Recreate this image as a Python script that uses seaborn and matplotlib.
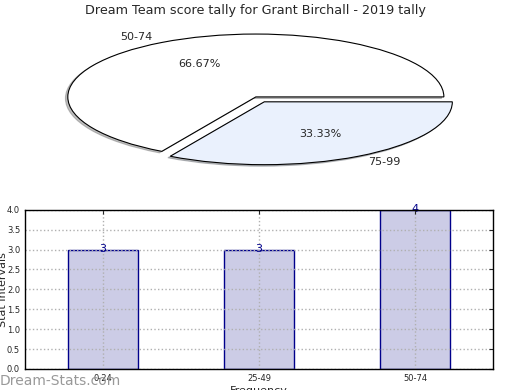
import numpy as np
import pandas as pd
import matplotlib
matplotlib.use('Agg')
import matplotlib.pyplot as plt
import seaborn as sns

# pie data
pie_labels = ['50-74', '75-99']
pie_values = [2, 1]

# bar data
bar_labels = ['0-24', '25-49', '50-74']
bar_values = [3, 3, 4]

sns.set_style('white')
plt.rcParams['font.family'] = ['DejaVu Sans']

fig = plt.figure(figsize=(5.2, 3.9), dpi=100)

# top: squashed pie
ax1 = fig.add_axes([0.040, 0.55, 0.904, 0.403])
ax1.pie(pie_values, labels=pie_labels, colors=['white', '#eaf1fd'],
        explode=[0, 0.09], autopct='%.2f%%',
        shadow={'ox': -0.009, 'oy': -0.017, 'shade': 0.5}, startangle=0,
        wedgeprops={'edgecolor': 'black', 'linewidth': 0.8},
        textprops={'fontsize': 8})
ax1.set_aspect('auto')
ax1.set_xlim(-1.25, 1.25)
ax1.set_ylim(-1.25, 1.25)
ax1.set_title('Dream Team score tally for Grant Birchall - 2019 tally', fontsize=9.2, pad=3)

# bottom: bar chart
ax2 = fig.add_axes([0.048, 0.054, 0.9, 0.408])
df = pd.DataFrame({'interval': bar_labels, 'count': bar_values})
sns.barplot(data=df, x='interval', y='count', color='#ccccе6'.replace('е', 'e'),
            edgecolor='#00008b', linewidth=1, width=0.45, saturation=1, ax=ax2)
ax2.bar_label(ax2.containers[0], fontsize=8, color='#00008b', padding=-3)

ax2.set_ylim(0, 4)
ax2.set_yticks(np.arange(0, 4.01, 0.5))
ax2.tick_params(axis='y', labelsize=6, direction='in', right=True, length=3)
ax2.tick_params(axis='x', labelsize=6, direction='in', top=True, length=3)
ax2.set_axisbelow(False)
ax2.grid(True, linestyle=':', color='#b0b0b0', linewidth=1)
for s in ax2.spines.values():
    s.set_color('black')
    s.set_linewidth(1)
    s.set_zorder(4)
ax2.set_xlabel('Frequency', fontsize=8, labelpad=2)
ax2.set_ylabel('Stat Intervals', fontsize=8, labelpad=-1)

fig.text(0.0, 0.012, 'Dream-Stats.com', fontsize=10, color='#999999')

fig.savefig('out.png', dpi=100)
